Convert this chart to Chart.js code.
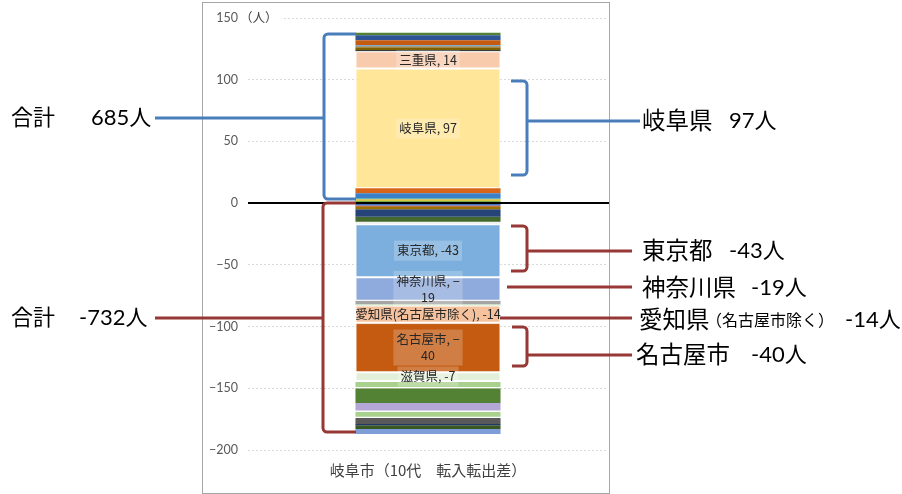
<!DOCTYPE html>
<html><head><meta charset="utf-8">
<script src="https://cdn.jsdelivr.net/npm/chart.js@4.4.0/dist/chart.umd.min.js"></script>
<style>html,body{margin:0;padding:0;background:#fff;overflow:hidden}#wrap{position:relative;width:902px;height:494px}canvas{display:block}</style>
</head><body><div id="wrap"><canvas id="c" width="902" height="494"></canvas></div>
<script>
// ---- data ----
const categories = ['岐阜市（10代　転入転出差）'];
const yTicks = { min: -200, max: 150, step: 50 };
const yUnit = '（人）';

// positive (転入超過) segments, from 0 upward
const posNames  = ['他P1','他P2','他P3','他P4','他P5','他P6','岐阜県','三重県','他P7','他P8','他P9','他P10','他P11','他P12','他P13'];
const posValues = [1, 1, 1, 1, 4, 4, 97, 14, 1, 2, 1, 1, 4, 4, 2];

// negative (転出超過) segments, from 0 downward
const negNames  = ['他N1','他N2','他N3','他N4','他N5','他N6','東京都','神奈川県','他N7','他N8','愛知県(名古屋市除く)','名古屋市','滋賀県','他N9','他N10','他N11','他N12','他N13','他N14','他N15','他N16','他N17','他N18','他N19','他N20'];
const negValues = [-2, -1, -2, -6, -4, -2, -43, -19, -3, -1, -14, -40, -7, -1, -4, -1, -12, -6, -1, -4, -1, -5, -1, -3, -4];

// data labels shown inside the bar
const labelTexts = {
  '岐阜県': ['岐阜県, 97'],
  '三重県': ['三重県, 14'],
  '東京都': ['東京都, -43'],
  '神奈川県': ['神奈川県, −', '19'],
  '愛知県(名古屋市除く)': ['愛知県(名古屋市除く), -14'],
  '名古屋市': ['名古屋市, −', '40'],
  '滋賀県': ['滋賀県, -7']
};

// annotation texts
const noteTotalPos = ['合計', '685人'];
const noteTotalNeg = ['合計', '-732人'];
const noteGifu = ['岐阜県', '97人'];
const noteTokyo = ['東京都', '-43人'];
const noteKanagawa = ['神奈川県', '-19人'];
const noteAichi = ['愛知県', '（名古屋市除く）', '-14人'];
const noteNagoya = ['名古屋市', '-40人'];

// ---- styles ----
const posColors = ['#4472C4','#70AD47','#FFC000','#43A0B8','#3B7FC6','#D8641A','#FFE699','#F8CBAD','#3A3A3A','#7F6000','#9C6B1A','#5B9BD5','#C55A11','#2F5597','#548235'];
const negColors = ['#4472C4','#B4531A','#9C7200','#264478','#43682B','#F2F2F2','#7CAFDD','#8FAADC','#A5A5A5','#C5E0B4','#F4B183','#C55A11','#E2F0D9','#FFFFFF','#A9D18E','#FFFFFF','#548235','#B4A7D6','#FFFFFF','#A9D18E','#FFFFFF','#595959','#203864','#385723','#7F9ED8'];

const CJK = '"Noto Sans CJK JP", sans-serif';
const BLUE = '#4A7EBB', RED = '#973836';

function mkDs(name, v, color) {
  const labeled = !!labelTexts[name];
  return {
    label: name, data: [v], backgroundColor: color, stack: 's',
    borderColor: '#FFFFFF', borderWidth: labeled ? 1 : 0, borderSkipped: false,
    labelLines: labelTexts[name] || null
  };
}
const datasets = [];
posNames.forEach((n, i) => datasets.push(mkDs(n, posValues[i], posColors[i])));
negNames.forEach((n, i) => datasets.push(mkDs(n, negValues[i], negColors[i])));

function bracket(ctx, x, y1, y2, tipX, color) {
  const r = 4;
  ctx.save();
  ctx.strokeStyle = color; ctx.lineWidth = 3; ctx.lineJoin = 'round'; ctx.lineCap = 'butt';
  ctx.beginPath();
  ctx.moveTo(tipX, y1);
  ctx.arcTo(x, y1, x, y2, r);
  ctx.arcTo(x, y2, tipX, y2, r);
  ctx.lineTo(tipX, y2);
  ctx.stroke();
  ctx.restore();
}
function hline(ctx, x1, x2, y, color) {
  ctx.save(); ctx.strokeStyle = color; ctx.lineWidth = 3;
  ctx.beginPath(); ctx.moveTo(x1, y); ctx.lineTo(x2, y); ctx.stroke(); ctx.restore();
}
function txt(ctx, s, x, y, size) {
  ctx.save();
  ctx.font = size + 'px Lato, ' + CJK;
  ctx.fillStyle = '#000'; ctx.textAlign = 'left'; ctx.textBaseline = 'middle';
  ctx.fillText(s, x, y);
  ctx.restore();
}

const overlay = {
  id: 'overlay',
  beforeDraw(chart) {
    const ctx = chart.ctx;
    ctx.save(); ctx.fillStyle = '#fff'; ctx.fillRect(0, 0, chart.width, chart.height); ctx.restore();
  },
  afterDatasetsDraw(chart) {
    const ctx = chart.ctx, ys = chart.scales.y, area = chart.chartArea;
    // zero line
    const y0 = Math.round(ys.getPixelForValue(0));
    ctx.save(); ctx.strokeStyle = '#000'; ctx.lineWidth = 2;
    ctx.beginPath(); ctx.moveTo(area.left, y0); ctx.lineTo(area.right + 1, y0); ctx.stroke(); ctx.restore();
    // data labels
    chart.data.datasets.forEach((ds, i) => {
      if (!ds.labelLines) return;
      const el = chart.getDatasetMeta(i).data[0];
      const cx = el.x, cy = (el.y + el.base) / 2;
      const lh = 16;
      ctx.save();
      ctx.font = '12.5px ' + CJK;
      const w = Math.max(...ds.labelLines.map(l => ctx.measureText(l).width));
      const h = ds.labelLines.length * lh;
      ctx.fillStyle = 'rgba(255,255,255,0.22)';
      ctx.fillRect(cx - w / 2 - 3, cy - h / 2 - 2, w + 6, h + 4);
      ctx.fillStyle = '#262626'; ctx.textAlign = 'center'; ctx.textBaseline = 'middle';
      ds.labelLines.forEach((l, k) => ctx.fillText(l, cx, cy - h / 2 + lh / 2 + k * lh));
      ctx.restore();
    });
  },
  afterDraw(chart) {
    const ctx = chart.ctx, ys = chart.scales.y;
    // frame
    ctx.save(); ctx.strokeStyle = '#A6A6A6'; ctx.lineWidth = 1;
    ctx.strokeRect(202.5, 2.5, 407, 491); ctx.restore();
    // unit label
    const yTop = ys.getPixelForValue(yTicks.max);
    ctx.save(); ctx.font = '12.5px ' + CJK;
    const uw = ctx.measureText(yUnit).width;
    ctx.fillStyle = '#fff'; ctx.fillRect(240, yTop - 7, uw + 4, 14);
    ctx.fillStyle = '#404040'; ctx.textBaseline = 'middle'; ctx.fillText(yUnit, 240, yTop - 1); ctx.restore();
    // annotations (left)
    bracket(ctx, 324, 34, 199, 356, BLUE);
    hline(ctx, 155, 324, 118, BLUE);
    bracket(ctx, 323, 203, 432, 356, RED);
    hline(ctx, 155, 323, 318, RED);
    txt(ctx, noteTotalPos[0], 11, 118, 22);
    txt(ctx, noteTotalPos[1], 91, 118, 22);
    txt(ctx, noteTotalNeg[0], 11, 318, 22);
    txt(ctx, noteTotalNeg[1], 79, 318, 22);
    // annotations (right)
    bracket(ctx, 527, 81, 175, 511, BLUE);
    hline(ctx, 527, 640, 121, BLUE);
    bracket(ctx, 527, 226, 271, 511, RED);
    hline(ctx, 527, 632, 251, RED);
    hline(ctx, 507, 632, 287, RED);
    hline(ctx, 500, 632, 318, RED);
    bracket(ctx, 527, 327, 366, 512, RED);
    hline(ctx, 527, 632, 355, RED);
    txt(ctx, noteGifu[0], 642, 121, 23.5); txt(ctx, noteGifu[1], 729, 121, 22);
    txt(ctx, noteTokyo[0], 642, 251, 23.5); txt(ctx, noteTokyo[1], 729, 251, 22);
    txt(ctx, noteKanagawa[0], 642, 288, 23.5); txt(ctx, noteKanagawa[1], 751, 288, 22);
    txt(ctx, noteAichi[0], 639, 320, 23.5); txt(ctx, noteAichi[1], 706, 321, 16); txt(ctx, noteAichi[2], 845, 320, 22);
    txt(ctx, noteNagoya[0], 636, 355, 23.5); txt(ctx, noteNagoya[1], 751, 355, 22);
  }
};

new Chart(document.getElementById('c'), {
  type: 'bar',
  data: { labels: categories, datasets },
  options: {
    responsive: false, animation: false, devicePixelRatio: 1,
    layout: { padding: { left: 202, right: 294, top: 18, bottom: 4 } },
    plugins: { legend: { display: false }, tooltip: { enabled: false } },
    datasets: { bar: { categoryPercentage: 1, barPercentage: 0.403 } },
    scales: {
      x: {
        stacked: true,
        grid: { display: false, drawTicks: false },
        border: { display: false },
        ticks: { color: '#404040', font: { size: 15, family: CJK }, padding: 11 },
        afterFit(s) { s.height = 40; }
      },
      y: {
        stacked: true, min: yTicks.min, max: yTicks.max,
        grid: { color: '#D9D9D9', drawTicks: false },
        border: { display: false, dash: [2, 2] },
        ticks: { stepSize: yTicks.step, color: '#595959', font: { size: 12.5, family: 'Lato, ' + CJK }, padding: 10,
          callback: v => String(v).replace('-', '−') },
        afterFit(s) { s.width = 46; }
      }
    }
  },
  plugins: [overlay]
});
</script>
</body></html>
